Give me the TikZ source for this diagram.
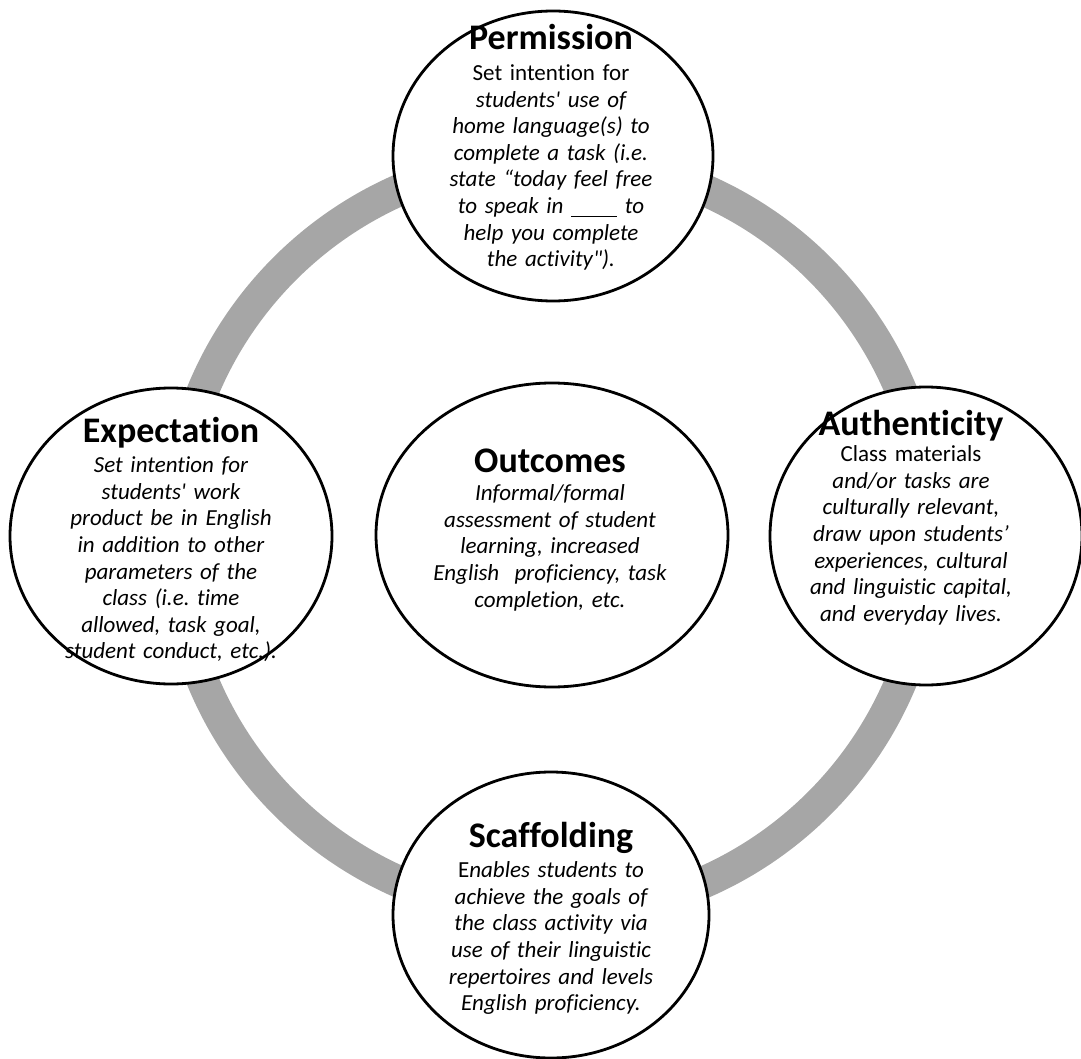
\documentclass[tikz,border=0pt]{standalone}
\usepackage{fontspec}
\setmainfont{Carlito}[Ligatures=NoCommon]
\usetikzlibrary{shapes.geometric}

\definecolor{ringgray}{RGB}{166,166,166}

\tikzset{
  bubble/.style={draw, ellipse, fill=white, line width=1.4pt, inner sep=0pt},
  blurb/.style={anchor=base, text width=180pt, align=center, inner sep=0pt,
    font=\fontsize{11.5}{13.3}\selectfont\frenchspacing},
}
\newcommand{\heading}[1]{{\fontsize{18}{20}\selectfont\bfseries #1}}
\newcommand{\blank}{\rule[-1.6pt]{23pt}{0.6pt}}

\begin{document}
\begin{tikzpicture}[x=0.5pt,y=-0.5pt]
    \useasboundingbox (0,0) rectangle (1081,1059);
    % grey ring behind the four outer bubbles
    \coordinate (hub) at (552,536);
    \draw[ringgray, line width=16pt] (hub) circle[radius=189pt];
    % bubbles
    \node (perm) at (553,156) [bubble, minimum width=160pt, minimum height=145pt] {};
    \node (expect) at (171,536) [bubble, minimum width=161pt, minimum height=148pt] {};
    \node (auth) at (926,536) [bubble, minimum width=156pt, minimum height=149pt] {};
    \node (outc) at (552,535) [bubble, minimum width=176pt, minimum height=152pt] {};
    \node (scaff) at (551,915) [bubble, minimum width=158pt, minimum height=143pt] {};
    % texts
    \node (permtxt) at (551,50) [blurb] {\heading{Permission}\\[2pt]
      Set intention for\\
      \itshape students\textquotesingle{} use of\\
      home language(s) to\\
      complete a task (i.e.\\
      state “today feel free\\
      to speak in \blank{} to\\
      help you complete\\
      the activity\textquotedbl).};
    \node (expecttxt) at (171,442) [blurb] {\heading{Expectation}\\[2pt]
      \itshape Set intention for\\
      students\textquotesingle{} work\\
      product be in English\\
      in addition to other\\
      parameters of the\\
      class (i.e. time\\
      allowed, task goal,\\
      student conduct, etc.).};
    \node (authtxt) at (911,435) [blurb] {\heading{Authenticity}\\
      Class materials\\
      \itshape and/or tasks are\\
      culturally relevant,\\
      draw upon students’\\
      experiences, cultural\\
      and linguistic capital,\\
      and everyday lives.};
    \node (outctxt) at (550,472) [blurb] {\heading{Outcomes}\\[1pt]
      \itshape Informal/formal\\
      assessment of student\\
      learning, increased\\
      English\ \ proficiency, task\\
      completion, etc.};
    \node (scafftxt) at (551,847) [blurb] {\heading{Scaffolding}\\[2pt]
      E\textit{nables students to}\\
      \itshape achieve the goals of\\
      the class activity via\\
      use of their linguistic\\
      repertoires and levels\\
      English proficiency.};
\end{tikzpicture}
\end{document}
